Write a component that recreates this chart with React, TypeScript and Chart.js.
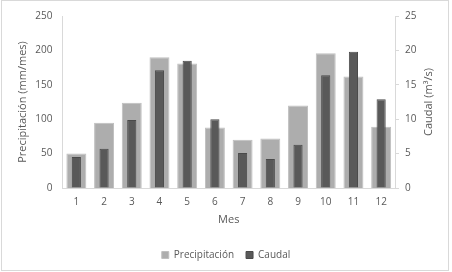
import React, { useEffect, useRef } from "react";
import { Chart, registerables } from "chart.js";

Chart.register(...registerables);

const months = ["1", "2", "3", "4", "5", "6", "7", "8", "9", "10", "11", "12"];
const precipitacion = [50, 95, 124, 190, 181, 88, 70, 72, 120, 196, 162, 89];
const caudal = [4.5, 5.7, 9.9, 17.1, 18.5, 10.0, 5.1, 4.2, 6.3, 16.4, 19.8, 12.9];
const rightTitle = "Caudal (m³/s)";

const FONT = "'Open Sans', 'Noto Sans', sans-serif";
const TEXT = "#595959";
const LINE = "#d9d9d9";

const borderPlugin = {
  id: "outerBorder",
  beforeDraw(chart: any) {
    const ctx = chart.ctx;
    ctx.save();
    ctx.fillStyle = "#ffffff";
    ctx.fillRect(0, 0, chart.width, chart.height);
    ctx.strokeStyle = LINE;
    ctx.lineWidth = 1;
    ctx.strokeRect(1.5, 0.5, 447, 270);
    ctx.restore();
  },
  afterDraw(chart: any) {
    const ctx = chart.ctx;
    const s = chart.scales.y1;
    const area = chart.chartArea;
    ctx.save();
    ctx.translate(s.right - 23, (area.top + area.bottom) / 2);
    ctx.rotate(-Math.PI / 2);
    ctx.fillStyle = TEXT;
    ctx.font = `11px ${FONT}`;
    ctx.textAlign = "center";
    ctx.textBaseline = "middle";
    ctx.fillText(rightTitle, 0, 0);
    ctx.restore();
  },
};

export default function App() {
  const ref = useRef<HTMLCanvasElement>(null);
  useEffect(() => {
    document.body.style.margin = "0";
    const chart = new Chart(ref.current!, {
      type: "bar",
      data: {
        labels: months,
        datasets: [
          {
            label: "Precipitación",
            data: precipitacion,
            backgroundColor: "#adadad",
            borderColor: "#bfbfbf",
            borderWidth: 1,
            yAxisID: "y",
            grouped: false,
            order: 1,
            barPercentage: 0.72,
            categoryPercentage: 1,
          } as any,
          {
            label: "Caudal",
            data: caudal,
            backgroundColor: "#595959",
            borderColor: "#4a4a4a",
            borderWidth: 1,
            yAxisID: "y1",
            grouped: false,
            order: 0,
            barPercentage: 0.33,
            categoryPercentage: 1,
          } as any,
        ],
      },
      options: {
        responsive: false,
        animation: false,
        layout: { padding: { left: 0, right: 0, top: 15, bottom: 2 } },
        plugins: {
          tooltip: { enabled: false },
          legend: {
            position: "bottom",
            labels: {
              boxWidth: 7,
              boxHeight: 7,
              padding: 12,
              color: TEXT,
              font: { family: FONT, size: 10 },
              sort: (a: any, b: any) => a.datasetIndex - b.datasetIndex,
            },
          },
        },
        scales: {
          x: {
            grid: { display: false, drawTicks: false },
            border: { display: true, color: LINE },
            ticks: { color: TEXT, font: { family: FONT, size: 10 }, padding: 8 },
            title: {
              display: true,
              text: "Mes",
              color: TEXT,
              font: { family: FONT, size: 11 },
              padding: { top: 4, bottom: 12 },
            },
            afterFit: (s: any) => {
              s.height = 50;
            },
          },
          y: {
            position: "left",
            min: 0,
            max: 250,
            ticks: { stepSize: 50, color: TEXT, font: { family: FONT, size: 10 }, padding: 10 },
            grid: { display: false, drawTicks: false },
            border: { display: true, color: LINE },
            title: {
              display: true,
              text: "Precipitación (mm/mes)",
              color: TEXT,
              font: { family: FONT, size: 11 },
              padding: { top: 16, bottom: 0 },
            },
            afterFit: (s: any) => {
              s.width = 62.5;
            },
          },
          y1: {
            position: "right",
            min: 0,
            max: 25,
            ticks: { stepSize: 5, color: TEXT, font: { family: FONT, size: 10 }, padding: 6 },
            grid: { display: true, drawOnChartArea: false, drawTicks: true, tickLength: 4, color: LINE },
            border: { display: true, color: LINE },
            title: { display: false },
            afterFit: (s: any) => {
              s.width = 57;
            },
          },
        },
      },
      plugins: [borderPlugin],
    });
    return () => chart.destroy();
  }, []);
  return <canvas ref={ref} width={452} height={272} />;
}
